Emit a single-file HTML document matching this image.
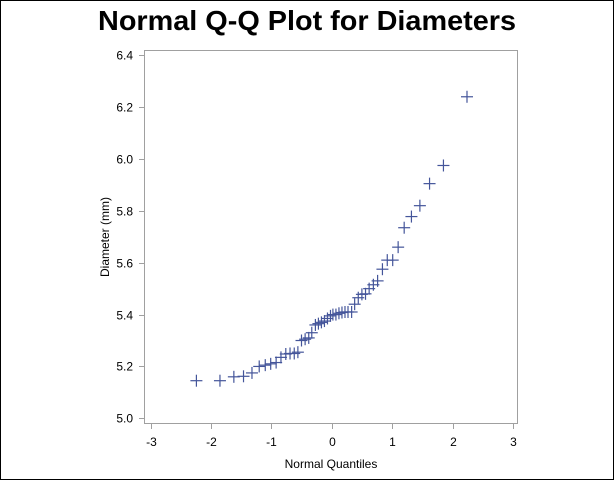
<!DOCTYPE html>
<html><head><meta charset="utf-8"><style>
html,body{margin:0;padding:0;background:#fff}
svg{display:block}
text{font-family:"Liberation Sans",Arial,sans-serif}
</style></head><body>
<svg width="614" height="480" viewBox="0 0 614 480" xmlns="http://www.w3.org/2000/svg">
<rect x="0.5" y="0.5" width="613" height="479" fill="#fff" stroke="#000" stroke-width="1"/>
<text x="307" y="30" text-anchor="middle" font-size="28" font-weight="bold" textLength="418" lengthAdjust="spacingAndGlyphs">Normal Q-Q Plot for Diameters</text>
<rect x="144.5" y="50.5" width="373" height="373" fill="none" stroke="#a0a0a0" stroke-width="1"/>
<g id="yt" stroke="#a0a0a0" stroke-width="1"></g>
<g id="xt" stroke="#a0a0a0" stroke-width="1"></g>
<g id="lab" font-size="12" fill="#000"></g>
<text x="331" y="468" text-anchor="middle" font-size="12">Normal Quantiles</text>
<text x="0" y="0" text-anchor="middle" font-size="12" transform="translate(109,237) rotate(-90)">Diameter (mm)</text>
<g id="pts" stroke="#44559a" stroke-width="1.2"></g>
</svg>
<script>
var NS="http://www.w3.org/2000/svg";
function el(p,t,a,txt){var e=document.createElementNS(NS,t);for(var k in a)e.setAttribute(k,a[k]);if(txt)e.textContent=txt;document.getElementById(p).appendChild(e);}
function X(v){return 331.7+v*60.4;}
function Y(v){return 418.3-(v-5)*259.3;}
for(var i=0;i<=7;i++){var v=5+i*0.2,y=Math.round(Y(v))+0.5;el("yt","line",{x1:139,x2:144,y1:y,y2:y});el("lab","text",{x:133,y:y+4,"text-anchor":"end"},v.toFixed(1));}
for(var i=-3;i<=3;i++){var x=Math.round(X(i))+0.5;el("xt","line",{x1:x,x2:x,y1:424,y2:429});el("lab","text",{x:x,y:446,"text-anchor":"middle"},String(i));}
var d=[[2.24,6.24],[1.85,5.975],[1.62,5.905],[1.46,5.82],[1.32,5.778],[1.20,5.735],[1.10,5.66],[1.01,5.61],[0.92,5.61],[0.84,5.575],[0.76,5.53],[0.69,5.515],[0.62,5.50],[0.56,5.48],[0.50,5.478],[0.44,5.465],[0.38,5.44],[0.33,5.41],[0.27,5.41],[0.22,5.41],[0.17,5.408],[0.12,5.405],[0.07,5.40],[0.02,5.40],[-0.02,5.395],[-0.07,5.385],[-0.12,5.375],[-0.17,5.37],[-0.22,5.365],[-0.27,5.36],[-0.33,5.33],[-0.38,5.31],[-0.44,5.305],[-0.50,5.30],[-0.56,5.255],[-0.62,5.25],[-0.69,5.25],[-0.76,5.248],[-0.84,5.235],[-0.92,5.215],[-1.01,5.21],[-1.10,5.205],[-1.20,5.20],[-1.32,5.175],[-1.46,5.162],[-1.62,5.16],[-1.85,5.145],[-2.24,5.145]];
d.forEach(function(p){var x=X(p[0]),y=Y(p[1]);el("pts","line",{x1:x-6,x2:x+6,y1:y,y2:y});el("pts","line",{x1:x,x2:x,y1:y-6,y2:y+6});});
</script>
</body></html>
